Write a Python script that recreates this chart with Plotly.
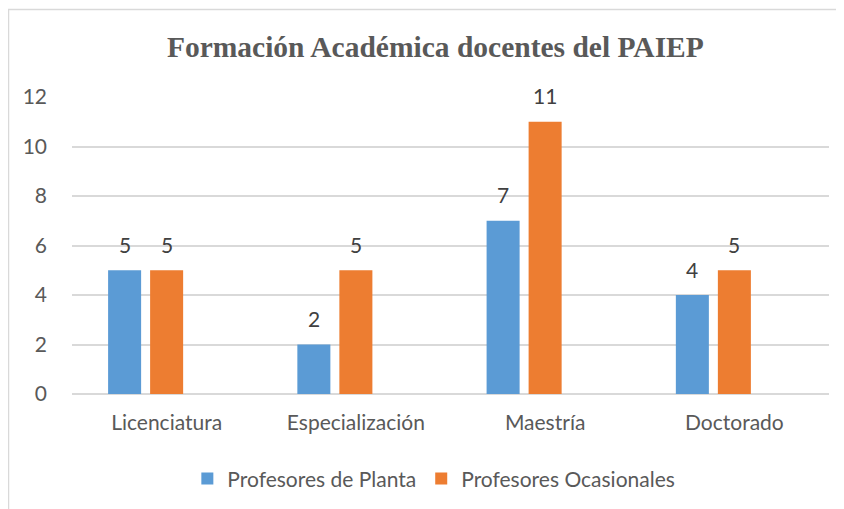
import plotly.graph_objects as go

categories = ["Licenciatura", "Especialización", "Maestría", "Doctorado"]
planta = [5, 2, 7, 4]
ocasionales = [5, 5, 11, 5]
empty_series = [None, None, None, None]
series_names = ["Profesores de Planta", "Profesores Ocasionales"]
title_text = "Formación Académica docentes del PAIEP"

BLUE = "#5B9BD5"
ORANGE = "#ED7D31"
FONT = "Lato, Carlito, Calibri, sans-serif"
FS = 21

fig = go.Figure()
fig.add_trace(go.Bar(x=categories, y=planta, name=series_names[0], marker_color=BLUE,
                     marker_line_width=0))
fig.add_trace(go.Bar(x=categories, y=ocasionales, name=series_names[1], marker_color=ORANGE,
                     marker_line_width=0))
fig.add_trace(go.Bar(x=categories, y=empty_series, name="", showlegend=False,
                     marker_color="rgba(0,0,0,0)", hoverinfo="skip"))

# data labels above bars (blue bars sit one slot left of the category centre)
for values, shift in ((planta, -42), (ocasionales, 0)):
    for cat, v in zip(categories, values):
        fig.add_annotation(x=cat, y=v, text=str(v), showarrow=False,
                           xshift=shift, yshift=26, yanchor="middle",
                           font=dict(size=FS, color="#404040", family=FONT))

fig.update_layout(
    width=836, height=501,
    margin=dict(l=64, r=15, t=89, b=115, autoexpand=False),
    paper_bgcolor="white", plot_bgcolor="white",
    barmode="group", bargap=0.334, bargroupgap=0.214,
    title=dict(text=f"<b>{title_text}</b>", x=0.48, xref="paper", xanchor="center",
               y=1 - 39/501, yref="container", yanchor="middle",
               font=dict(family="Liberation Serif, Times New Roman, serif", size=29.5, color="#595959")),
    font=dict(family=FONT, size=FS, color="#595959"),
    showlegend=True,
    legend=dict(orientation="h", x=0.478, xanchor="center",
                y=-0.286, yanchor="middle", font=dict(size=FS, color="#595959", family=FONT),
                traceorder="normal"),
    yaxis=dict(range=[0, 12], dtick=2, showgrid=True, gridcolor="#D9D9D9", gridwidth=1.5,
               zeroline=True, zerolinecolor="#D9D9D9", zerolinewidth=1.5,
               showline=False, ticks="", ticklabelstandoff=24,
               tickfont=dict(size=FS, color="#595959", family=FONT)),
    xaxis=dict(showline=False, ticks="", tickangle=0,
               tickfont=dict(size=FS, color="#595959", family=FONT),
               ticklabelstandoff=14),
    shapes=[dict(type="rect", xref="paper", yref="paper", x0=-0.0839, x1=1.1, y0=-0.45, y1=1.2946,
                 line=dict(color="#D9D9D9", width=1.5), fillcolor="rgba(0,0,0,0)", layer="below")],
)

fig.write_html("out.html")
